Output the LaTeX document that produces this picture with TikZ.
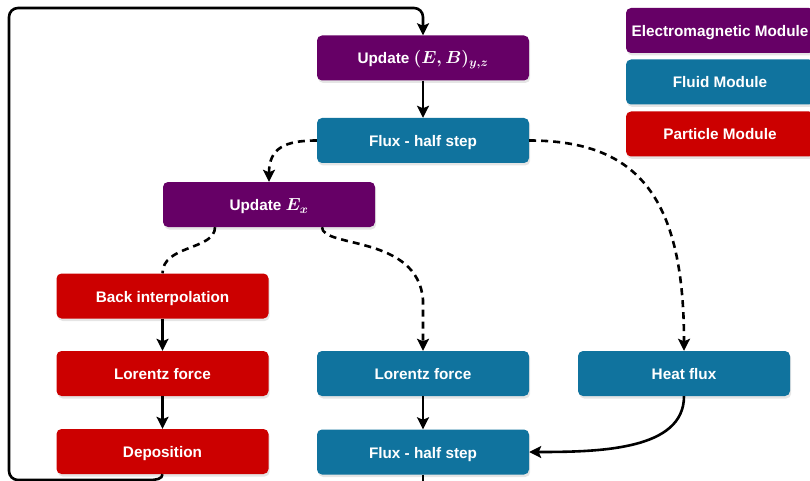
\documentclass[tikz,border=0pt]{standalone}
\usepackage{fix-cm}
\usepackage{amsmath,bm}
\usepackage{fontspec}
\setmainfont{Liberation Sans}
\usetikzlibrary{arrows.meta,shadows}
\definecolor{emc}{HTML}{660066}
\definecolor{flc}{HTML}{10739E}
\definecolor{pac}{HTML}{CC0000}
\newcommand{\bigmath}[1]{{\fontsize{17.5}{20}\selectfont\boldmath$#1$}}
\begin{document}
\begin{tikzpicture}[x=1pt,y=-1pt,
  box/.style={rounded corners=5pt, minimum width=212pt, minimum height=45pt,
    text=white, font=\fontsize{15.3}{18}\selectfont\bfseries, inner sep=0pt,
    text height=13pt, text depth=1pt,
    drop shadow={shadow xshift=1.2pt,shadow yshift=-2.5pt,opacity=0.2}},
  emb/.style={box, fill=emc},
  flb/.style={box, fill=flc},
  pab/.style={box, fill=pac},
  conn/.style={line width=2.6pt, -{Stealth[length=12pt,width=12pt,inset=2.5pt]}},
  dconn/.style={conn, dash pattern=on 7pt off 5pt},
  dline/.style={line width=2.6pt, dash pattern=on 7pt off 5pt}]
\useasboundingbox (0,0) rectangle (810,481);
\fill[white] (0,0) rectangle (810,481);
% legend
\node[emb, minimum width=188pt] (legem) at (720,30.5) {Electromagnetic Module};
\node[flb, minimum width=188pt] (legfl) at (720,82) {Fluid Module};
\node[pab, minimum width=188pt] (legpa) at (720,134) {Particle Module};
% nodes
\node[emb] (upEB) at (423,58) {Update \bigmath{(E,B)_{y,z}}};
\node[flb] (flux1) at (423,140.5) {Flux - half step};
\node[emb] (upEx) at (269,204.5) {Update \bigmath{E_{x}}};
\node[pab] (back) at (162.5,296) {Back interpolation};
\node[pab] (lorp) at (162.5,373.5) {Lorentz force};
\node[pab] (depo) at (162.5,451.5) {Deposition};
\node[flb] (lorf) at (423,373.5) {Lorentz force};
\node[flb] (heat) at (684,373.5) {Heat flux};
\node[flb] (flux2) at (423,452) {Flux - half step};
\coordinate (bot) at (423,495);
% connectors
\draw[conn, rounded corners=9pt] (depo.south) .. controls (162.5,479) and (156,480) .. (140,480) -- (9,480) -- (9,8) -- (423,8) -- (upEB.north);
\draw[conn] (upEB) -- (flux1);
\draw[dconn] (flux1.west) .. controls (285,140.5) and (269,148) .. (upEx.north);
\draw[dconn] (flux1.east) .. controls (640,140.5) and (684,200) .. (heat.north);
\draw[dline] (upEx.south -| 215,0) .. controls (215,250) and (162.5,245) .. (back.north);
\draw[dconn] (upEx.south -| 322,0) .. controls (322,248) and (418,235) .. (423,300) -- (lorf.north);
\draw[conn] (back) -- (lorp);
\draw[conn] (lorp) -- (depo);
\draw[conn] (lorf) -- (flux2);
\draw[conn] (heat.south) .. controls (684,450) and (600,452) .. (flux2.east);
\draw[line width=2.6pt] (flux2.south) -- (bot);
\end{tikzpicture}
\end{document}
